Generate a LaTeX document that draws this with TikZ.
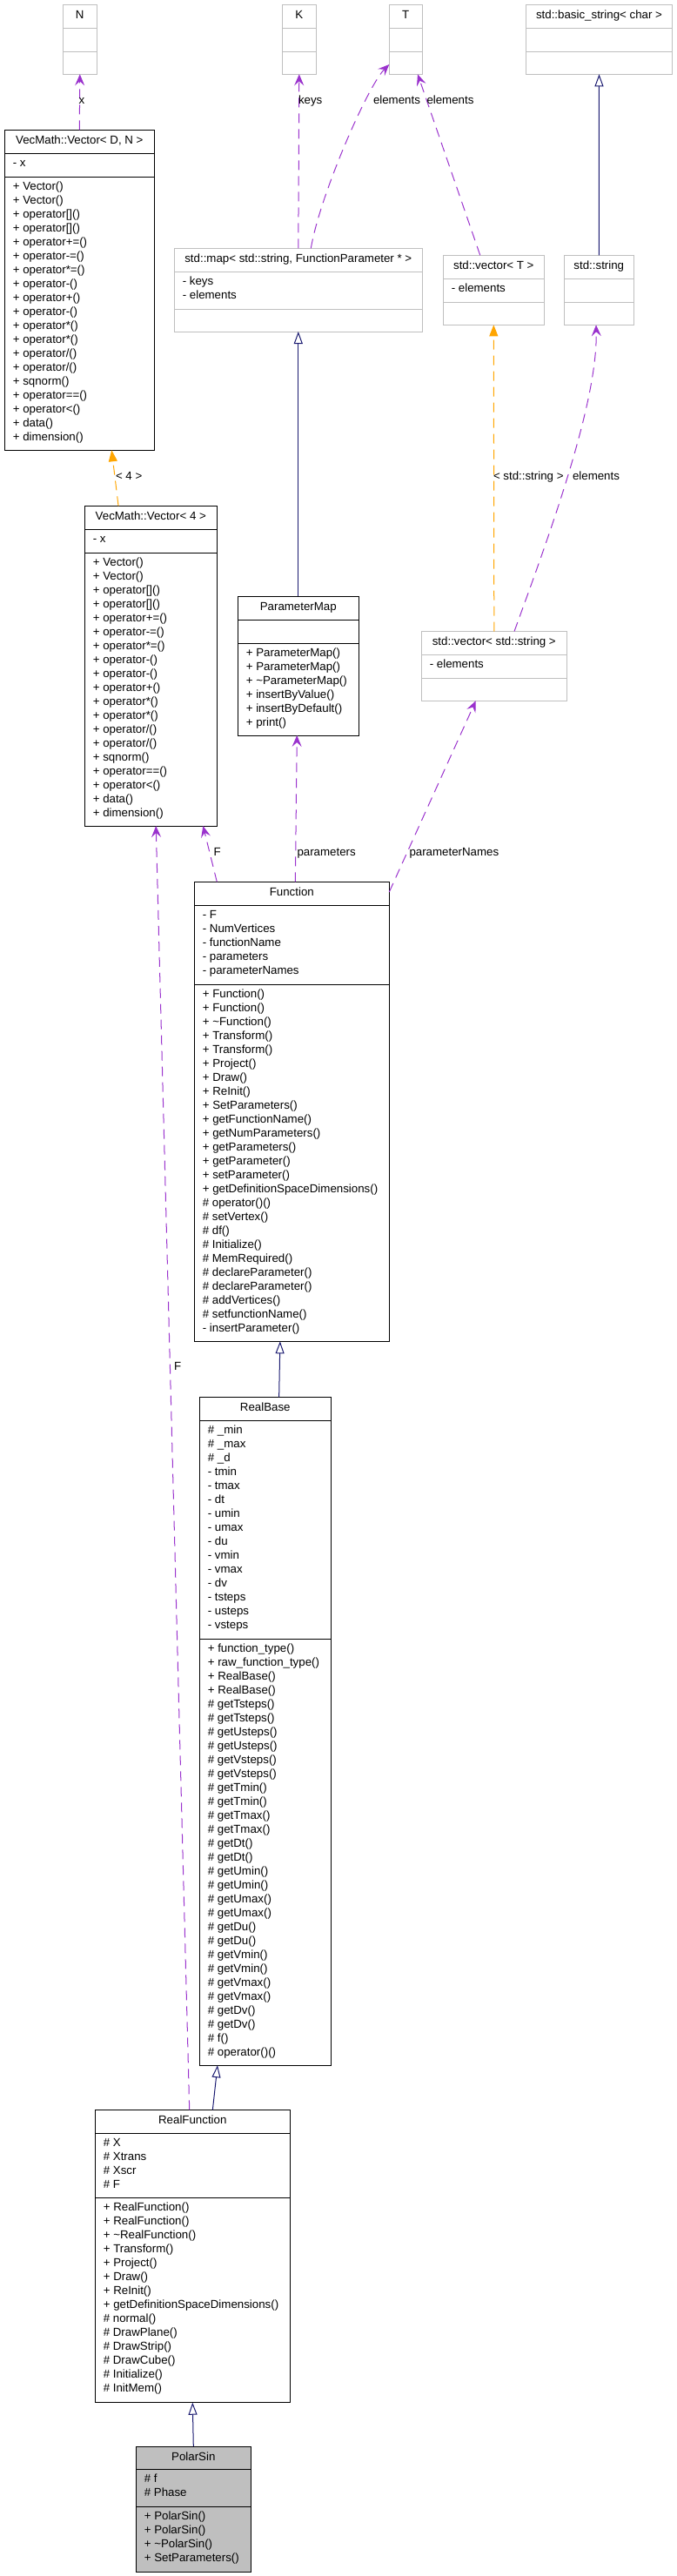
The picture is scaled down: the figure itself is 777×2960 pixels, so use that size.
\documentclass[tikz,border=0pt]{standalone}
\usepackage{fontspec}
\setmainfont{Liberation Sans}
\usetikzlibrary{arrows.meta,calc}
\definecolor{purp}{HTML}{9A32CD}
\definecolor{orng}{HTML}{FFA500}
\definecolor{navyb}{HTML}{191970}
\definecolor{boxgray}{HTML}{BFBFBF}
\tikzset{
 txt/.style={inner sep=0pt, outer sep=0pt, font=\fontsize{13.3}{16}\selectfont},
 docbox/.style={draw=black, line width=1pt, inner sep=0pt, outer sep=0pt, fill=white},
 extbox/.style={draw=boxgray, line width=1pt, inner sep=0pt, outer sep=0pt, fill=white},
 curbox/.style={draw=black, line width=1pt, inner sep=0pt, outer sep=0pt, fill=boxgray},
 usage/.style={draw=purp, line width=1pt, dash pattern=on 11pt off 7pt, -{Stealth[length=13pt,width=11pt,inset=5pt]}},
 tmpl/.style={draw=orng, line width=1pt, dash pattern=on 11pt off 7pt, -{Triangle[length=13pt,width=10pt]}},
 inherit/.style={draw=navyb, line width=1pt, -{Triangle[length=14pt,width=10pt,fill=white]}},
}
% #1 name, #2 style, #3 x1, #4 y1 top, #5 x2, #6 header bottom, #7 attr bottom, #8 bottom, #9 title
\newcommand{\umlbox}[9]{%
 \node[#2, minimum width={(#5-#3)*1pt}, minimum height={(#8-#4)*1pt}, anchor=north west] (#1) at (#3,#4) {};
 \draw[#2, fill=none] (#3,#6) -- (#5,#6) (#3,#7) -- (#5,#7);
 \node[txt, anchor=mid] (#1-title) at ({(#3+#5)/2},{#4+13.5}) {#9};
}
% #1 name, #2 prefix, #3 x1, #4 section top, #5 list
\newcommand{\seclines}[5]{%
 \foreach \lineitem [count=\i] in {#5} {%
   \node[txt, anchor=mid west] (#1-#2\i) at (#3+9.5, {#4+12.5+16*(\i-1)}) {\lineitem};
 }%
}
\begin{document}
\begin{tikzpicture}[x=1pt,y=-1pt]
\useasboundingbox (0,0) rectangle (777,2960);

% external boxes
\umlbox{N}{extbox}{72.3}{5.3}{111.3}{32.3}{59.7}{85.3}{N}
\umlbox{K}{extbox}{324.3}{5.3}{363.3}{32.3}{59.7}{85.3}{K}
\umlbox{T}{extbox}{447.3}{5.3}{485.3}{32.3}{59.7}{85.3}{T}
\umlbox{basic}{extbox}{604.3}{5.3}{772.7}{32.3}{59.7}{85.3}{std::basic\_string< char >}

\umlbox{Map}{extbox}{200.3}{285.3}{485.3}{312.3}{355.3}{381}{std::map< std::string, FunctionParameter * >}
\seclines{Map}{a}{200.3}{312.3}{- keys, - elements}

\umlbox{vecT}{extbox}{509.3}{293.3}{625.3}{320.3}{347.3}{373.3}{std::vector< T >}
\seclines{vecT}{a}{509.3}{320.3}{- elements}

\umlbox{string}{extbox}{648.3}{293.3}{728.3}{320.3}{347.3}{373.3}{std::string}

\umlbox{vecStr}{extbox}{484.3}{725.5}{651.3}{752.3}{779.3}{805.3}{std::vector< std::string >}
\seclines{vecStr}{a}{484.3}{752.3}{- elements}

% documented classes
\umlbox{VecDN}{docbox}{5.3}{149.3}{177.3}{176.3}{203.3}{517.3}{VecMath::Vector< D, N >}
\seclines{VecDN}{a}{5.3}{176.3}{- x}
\seclines{VecDN}{m}{5.3}{203.3}{+ Vector(), + Vector(), + operator[](), + operator[](), + operator+=(), + operator-=(), + operator*=(), + operator-(), + operator+(), + operator-(), + operator*(), + operator*(), {+ operator/()}, {+ operator/()}, + sqnorm(), + operator==(), + operator<(), + data(), + dimension()}

\umlbox{Vec4}{docbox}{97.3}{581.3}{249.3}{608.3}{635.3}{949}{VecMath::Vector< 4 >}
\seclines{Vec4}{a}{97.3}{608.3}{- x}
\seclines{Vec4}{m}{97.3}{635.3}{+ Vector(), + Vector(), + operator[](), + operator[](), + operator+=(), + operator-=(), + operator*=(), + operator-(), + operator-(), + operator+(), + operator*(), + operator*(), {+ operator/()}, {+ operator/()}, + sqnorm(), + operator==(), + operator<(), + data(), + dimension()}

\umlbox{PM}{docbox}{273.3}{685.3}{412.3}{712.3}{739.3}{845}{ParameterMap}
\seclines{PM}{m}{273.3}{739.3}{+ ParameterMap(), + ParameterMap(), + \textasciitilde ParameterMap(), + insertByValue(), + insertByDefault(), + print()}

\umlbox{Fn}{docbox}{223.3}{1013.3}{447.3}{1040.3}{1131.3}{1541.3}{Function}
\seclines{Fn}{a}{223.3}{1040.3}{- F, - NumVertices, - functionName, - parameters, - parameterNames}
\seclines{Fn}{m}{223.3}{1131.3}{+ Function(), + Function(), + \textasciitilde Function(), + Transform(), + Transform(), + Project(), + Draw(), + ReInit(), + SetParameters(), + getFunctionName(), + getNumParameters(), + getParameters(), + getParameter(), + setParameter(), + getDefinitionSpaceDimensions(), \# operator()(), \# setVertex(), \# df(), \# Initialize(), \# MemRequired(), \# declareParameter(), \# declareParameter(), \# addVertices(), \# setfunctionName(), - insertParameter()}

\umlbox{RB}{docbox}{229.3}{1605.3}{380.3}{1632.3}{1883.3}{2373.2}{RealBase}
\seclines{RB}{a}{229.3}{1632.3}{\# \_min, \# \_max, \# \_d, - tmin, - tmax, - dt, - umin, - umax, - du, - vmin, - vmax, - dv, - tsteps, - usteps, - vsteps}
\seclines{RB}{m}{229.3}{1883.3}{+ function\_type(), + raw\_function\_type(), + RealBase(), + RealBase(), \# getTsteps(), \# getTsteps(), \# getUsteps(), \# getUsteps(), \# getVsteps(), \# getVsteps(), \# getTmin(), \# getTmin(), \# getTmax(), \# getTmax(), \# getDt(), \# getDt(), \# getUmin(), \# getUmin(), \# getUmax(), \# getUmax(), \# getDu(), \# getDu(), \# getVmin(), \# getVmin(), \# getVmax(), \# getVmax(), \# getDv(), \# getDv(), \# f(), \# operator()()}

\umlbox{RF}{docbox}{109.3}{2424.3}{333.3}{2451.7}{2525.3}{2760.7}{RealFunction}
\seclines{RF}{a}{109.3}{2451.7}{\# X, \# Xtrans, \# Xscr, \# F}
\seclines{RF}{m}{109.3}{2525.3}{+ RealFunction(), + RealFunction(), + \textasciitilde RealFunction(), + Transform(), + Project(), + Draw(), + ReInit(), + getDefinitionSpaceDimensions(), \# normal(), \# DrawPlane(), \# DrawStrip(), \# DrawCube(), \# Initialize(), \# InitMem()}

\umlbox{PS}{curbox}{156.3}{2811}{288.3}{2837.3}{2880.3}{2955}{PolarSin}
\seclines{PS}{a}{156.3}{2837.3}{\# f, \# Phase}
\seclines{PS}{m}{156.3}{2880.3}{+ PolarSin(), + PolarSin(), + \textasciitilde PolarSin(), + SetParameters()}

% connectors
\draw[usage] (VecDN.north) -- (N.south);
\draw[usage] (Map.north) -- (K.south);
\draw[usage] ($(Map.north west)!0.551!(Map.north east)$) .. controls +(10,-60) and +(-25,25) .. ($(T.south west)!0.141!(T.north west)$);
\draw[usage] ($(vecT.north west)!0.366!(vecT.north east)$) -- ($(T.south west)!0.86!(T.south east)$);
\draw[inherit] (string.north) -- (basic.south);
\draw[inherit] (PM.north) -- (Map.south);
\draw[tmpl] (vecStr.north) -- (vecT.south);
\draw[usage] ($(vecStr.north west)!0.639!(vecStr.north east)$) .. controls +(40,-110) and +(2,90) .. ($(string.south west)!0.459!(string.south east)$);
\draw[tmpl] ($(Vec4.north west)!0.255!(Vec4.north east)$) -- ($(VecDN.south west)!0.715!(VecDN.south east)$);
\draw[usage] ($(Fn.north west)!0.518!(Fn.north east)$) -- ($(PM.south west)!0.489!(PM.south east)$);
\draw[usage] ($(Fn.north east)!0.022!(Fn.south east)$) -- ($(vecStr.south west)!0.374!(vecStr.south east)$);
\draw[usage] ($(Fn.north west)!0.116!(Fn.north east)$) -- ($(Vec4.south west)!0.895!(Vec4.south east)$);
\draw[usage] ($(RF.north west)!0.484!(RF.north east)$) -- ($(Vec4.south west)!0.539!(Vec4.south east)$);
\draw[inherit] ($(RB.north west)!0.605!(RB.north east)$) -- ($(Fn.south west)!0.44!(Fn.south east)$);
\draw[inherit] ($(RF.north west)!0.603!(RF.north east)$) -- ($(RB.south west)!0.137!(RB.south east)$);
\draw[inherit] (PS.north) -- (RF.south);

% labels
\node[txt, anchor=mid west] (lbl-x) at (90.5,117) {x};
\node[txt, anchor=mid west] (lbl-keys) at (343,117) {keys};
\node[txt, anchor=mid west] (lbl-el1) at (429,117) {elements};
\node[txt, anchor=mid west] (lbl-el2) at (490.5,117) {elements};
\node[txt, anchor=mid west] (lbl-4) at (133,549.3) {< 4 >};
\node[txt, anchor=mid west] (lbl-str) at (567,548.7) {< std::string >};
\node[txt, anchor=mid west] (lbl-el3) at (658,548.7) {elements};
\node[txt, anchor=mid west] (lbl-F1) at (245.5,980.7) {F};
\node[txt, anchor=mid west] (lbl-par) at (341.5,980.7) {parameters};
\node[txt, anchor=mid west] (lbl-parn) at (470.5,980.7) {parameterNames};
\node[txt, anchor=mid west] (lbl-F2) at (200,1572.3) {F};
\end{tikzpicture}
\end{document}
